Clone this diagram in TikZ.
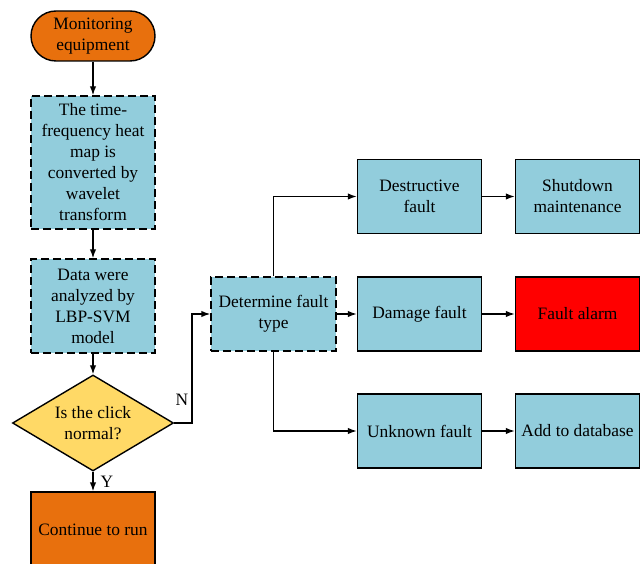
\documentclass[tikz,border=0pt]{standalone}
\usepackage{fontspec}
\setmainfont{Liberation Serif}
\newfontfamily\tms{Liberation Serif}
\usetikzlibrary{shapes.geometric,arrows.meta}
\definecolor{orng}{HTML}{E8700D}
\definecolor{lblue}{HTML}{92CDDC}
\definecolor{ylw}{HTML}{FFD966}
\tikzset{
  base/.style={draw=black, line width=1.4pt, align=center, font=\tms\fontsize{17.4}{21}\selectfont, inner sep=1pt},
  dbox/.style={base, fill=lblue, dash pattern=on 8pt off 4pt, minimum width=124pt},
  sbox/.style={base, fill=lblue, minimum width=124pt, minimum height=74pt},
  term/.style={base, fill=orng, rounded corners=25pt, minimum width=124pt, minimum height=50pt},
  obox/.style={base, fill=orng, minimum width=124pt, minimum height=76pt},
  dec/.style={base, fill=ylw, diamond, aspect=1.68, minimum width=161pt, minimum height=96pt, inner sep=0pt},
  conn/.style={line width=1.4pt, -{Latex[length=9pt,width=6.5pt]}},
  lbl/.style={font=\tms\fontsize{17.4}{18}\selectfont}
}
\begin{document}
\begin{tikzpicture}[x=1pt,y=-1pt]
\useasboundingbox (0,0) rectangle (640,564);
\clip (0,0) rectangle (640,564);
\node[term] (mon) at (93,36) {Monitoring\\equipment};
\node[dbox, minimum height=133pt] (tf) at (93,162.5) {The time-\\frequency heat\\map is\\converted by\\wavelet\\transform};
\node[dbox, minimum height=94pt] (lbp) at (93,306) {Data were\\analyzed by\\LBP-SVM\\model};
\node[dec] (dec) at (93,423) {Is the click\\normal?};
\node[obox] (cont) at (93,530) {Continue to run};
\node[dbox, minimum height=74pt, minimum width=125pt] (det) at (273.5,314) {Determine fault\\type};
\node[sbox] (des) at (419.5,196.5) {Destructive\\fault};
\node[sbox] (dam) at (419.5,314) {Damage fault};
\node[sbox] (unk) at (419.5,431) {Unknown fault};
\node[sbox] (shut) at (577.5,196.5) {Shutdown\\maintenance};
\node[sbox, fill=red] (alarm) at (577.5,314) {Fault alarm};
\node[sbox] (add) at (577.5,431) {Add to database};
\coordinate (nb) at (192,423);
\draw[conn] (mon) -- (tf);
\draw[conn] (tf) -- (lbp);
\draw[conn] (lbp) -- (dec);
\draw[conn] (dec) -- (cont);
\draw[conn] (dec.east) -- (nb) |- (det.west);
\draw[conn] (det.north) |- (des.west);
\draw[conn] (det) -- (dam);
\draw[conn] (det.south) |- (unk.west);
\draw[conn] (des) -- (shut);
\draw[conn] (dam) -- (alarm);
\draw[conn] (unk) -- (add);
\node[lbl] (nl) at (182,400) {N};
\node[lbl] (yl) at (107,482) {Y};
\end{tikzpicture}
\end{document}
